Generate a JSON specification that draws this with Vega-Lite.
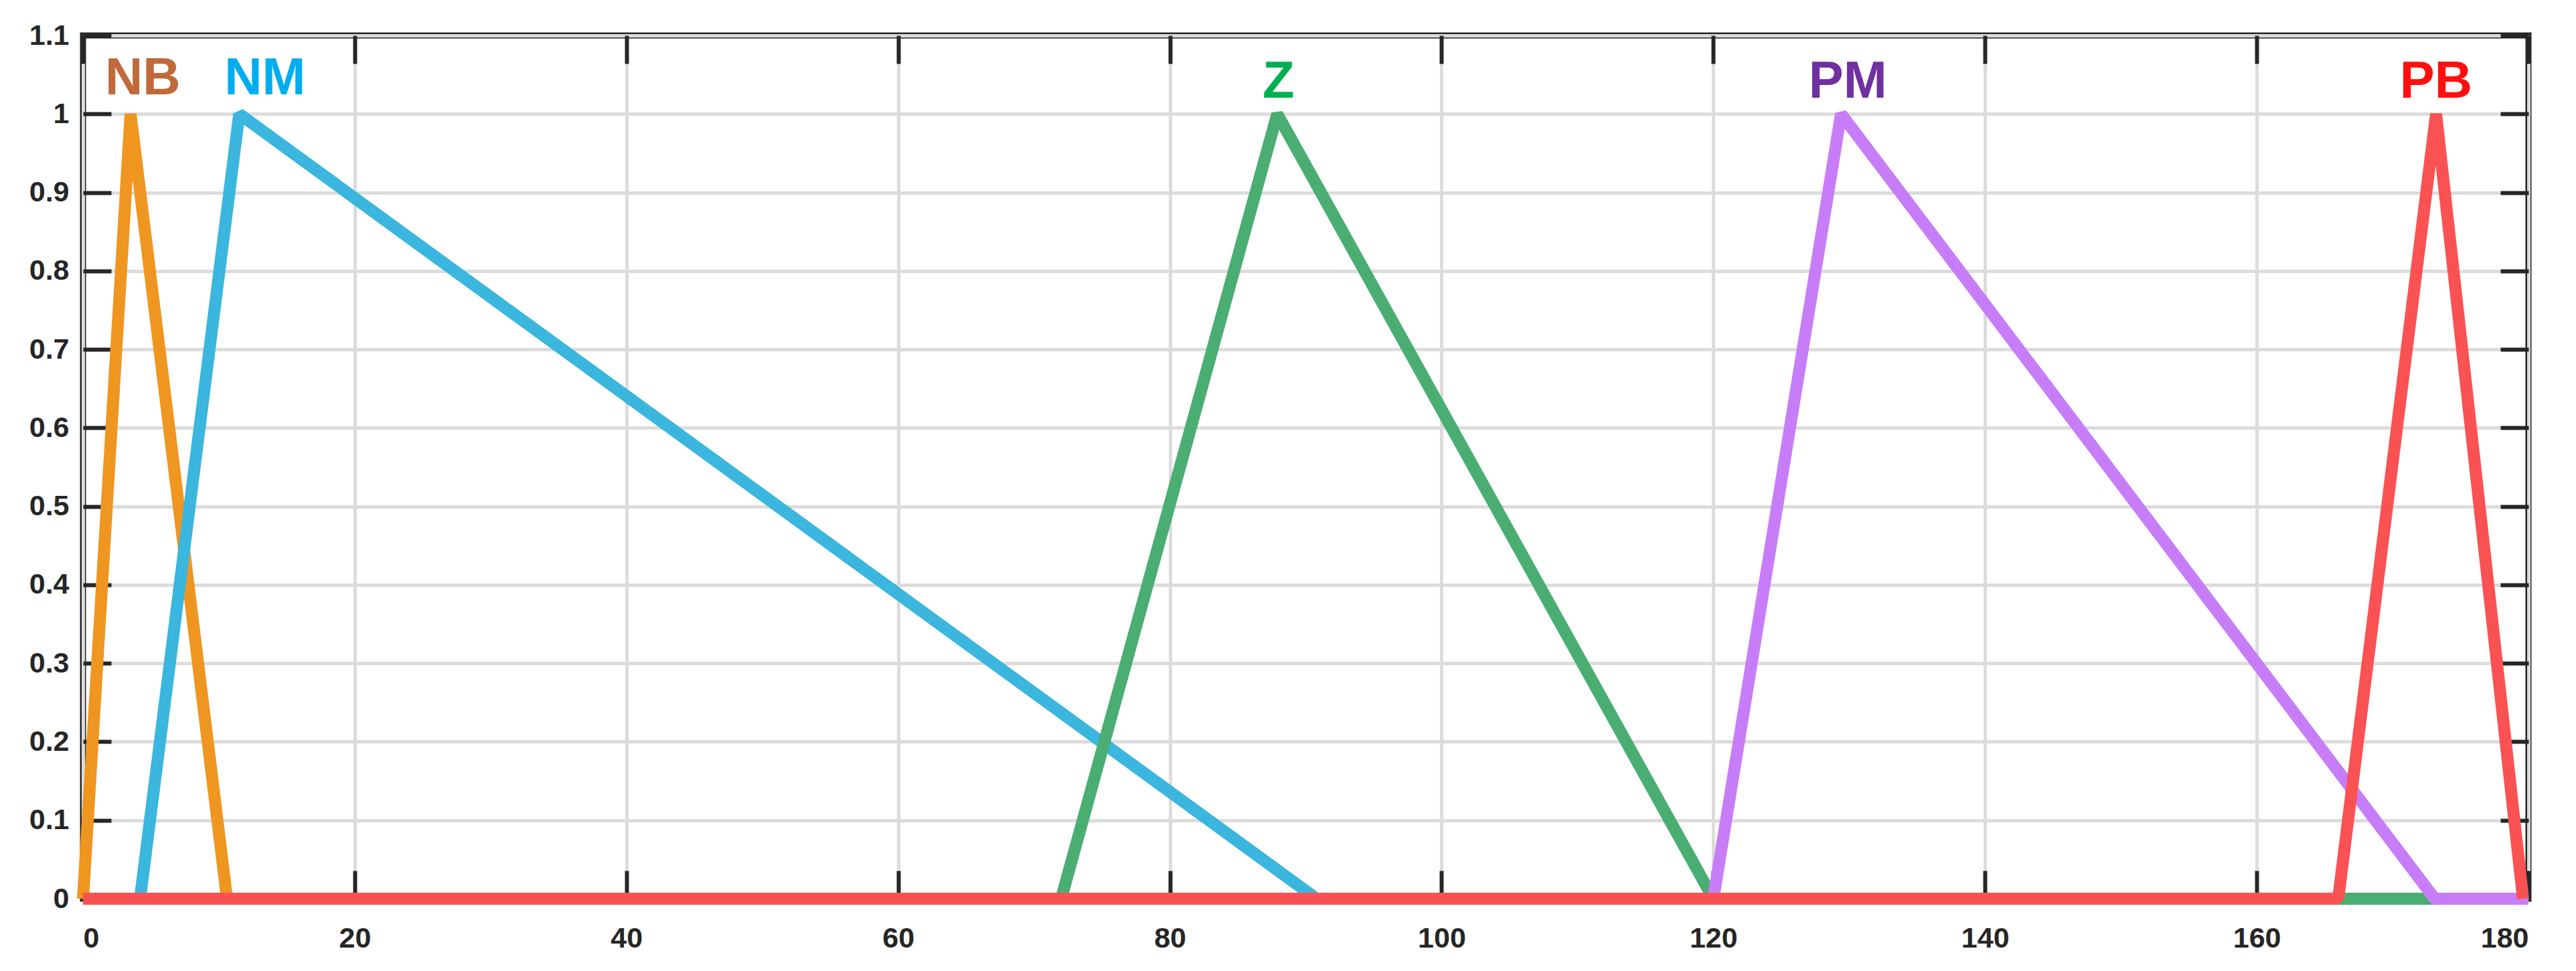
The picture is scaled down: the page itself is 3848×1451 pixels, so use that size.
{
  "$schema": "https://vega.github.io/schema/vega-lite/v6.json",
  "autosize": {"type": "none"},
  "padding": {"left": 124, "top": 53, "right": 71, "bottom": 108},
  "width": 3653,
  "height": 1290,
  "background": "white",
  "config": {
    "view": {"stroke": "#262626", "strokeWidth": 9},
    "axis": {
      "labelFont": "Liberation Sans",
      "labelFontWeight": "bold",
      "labelFontSize": 43,
      "labelColor": "#262626",
      "tickColor": "#262626",
      "tickWidth": 6,
      "tickSize": -42,
      "domain": false,
      "title": null,
      "gridColor": "#dcdcdc",
      "gridWidth": 5
    }
  },
  "datasets": {
    "mf": [
      {"series": "NB", "x": 0, "y": 0},
      {"series": "NB", "x": 3.5, "y": 1},
      {"series": "NB", "x": 10.6, "y": 0},
      {"series": "NM", "x": 4.2, "y": 0},
      {"series": "NM", "x": 11.5, "y": 1},
      {"series": "NM", "x": 90.8, "y": 0},
      {"series": "Z", "x": 72.0, "y": 0},
      {"series": "Z", "x": 87.9, "y": 1},
      {"series": "Z", "x": 120, "y": 0},
      {"series": "Z", "x": 173.1, "y": 0},
      {"series": "PM", "x": 120, "y": 0},
      {"series": "PM", "x": 129.4, "y": 1},
      {"series": "PM", "x": 173.1, "y": 0},
      {"series": "PM", "x": 180, "y": 0},
      {"series": "PB", "x": 0, "y": 0},
      {"series": "PB", "x": 166.0, "y": 0},
      {"series": "PB", "x": 173.2, "y": 1},
      {"series": "PB", "x": 179.6, "y": 0}
    ],
    "labels": [
      {"name": "NB", "x": 4.4, "y": 1.045},
      {"name": "NM", "x": 13.4, "y": 1.045},
      {"name": "Z", "x": 88.0, "y": 1.04},
      {"name": "PM", "x": 129.9, "y": 1.04},
      {"name": "PB", "x": 173.2, "y": 1.04}
    ]
  },
  "layer": [
    {
      "data": {"name": "mf"},
      "encoding": {
        "x": {
          "field": "x", "type": "quantitative",
          "scale": {"domain": [0, 180], "nice": false, "zero": false},
          "axis": {"orient": "bottom", "values": [0, 20, 40, 60, 80, 100, 120, 140, 160, 180], "grid": true, "labelPadding": 80}
        },
        "y": {
          "field": "y", "type": "quantitative",
          "scale": {"domain": [0, 1.1], "nice": false, "zero": false},
          "axis": {"orient": "left", "values": [0, 0.1, 0.2, 0.3, 0.4, 0.5, 0.6, 0.7, 0.8, 0.9, 1, 1.1], "format": "~g", "grid": true, "labelPadding": 63}
        },
        "color": {
          "field": "series", "type": "nominal",
          "scale": {"domain": ["NB", "NM", "Z", "PM", "PB"], "range": ["#EF9620", "#3BB6DE", "#4AAE72", "#C87DF8", "#FA5252"]},
          "legend": null
        }
      },
      "layer": [
        {"transform": [{"filter": "datum.series === 'NB'"}], "mark": {"type": "line", "strokeWidth": 18, "strokeJoin": "bevel", "strokeCap": "butt"}},
        {"transform": [{"filter": "datum.series === 'NM'"}], "mark": {"type": "line", "strokeWidth": 18, "strokeJoin": "bevel", "strokeCap": "butt"}},
        {"transform": [{"filter": "datum.series === 'Z'"}], "mark": {"type": "line", "strokeWidth": 18, "strokeJoin": "bevel", "strokeCap": "butt"}},
        {"transform": [{"filter": "datum.series === 'PM'"}], "mark": {"type": "line", "strokeWidth": 18, "strokeJoin": "bevel", "strokeCap": "butt"}},
        {"transform": [{"filter": "datum.series === 'PB'"}], "mark": {"type": "line", "strokeWidth": 18, "strokeJoin": "bevel", "strokeCap": "butt"}}
      ]
    },
    {
      "data": {"name": "labels"},
      "mark": {"type": "text", "font": "Liberation Sans", "fontWeight": "bold", "fontSize": 78, "align": "center", "baseline": "middle"},
      "encoding": {
        "x": {
          "field": "x", "type": "quantitative",
          "scale": {"domain": [0, 180], "nice": false, "zero": false},
          "axis": {"orient": "top", "values": [0, 20, 40, 60, 80, 100, 120, 140, 160, 180], "grid": false, "labels": false}
        },
        "y": {
          "field": "y", "type": "quantitative",
          "scale": {"domain": [0, 1.1], "nice": false, "zero": false},
          "axis": {"orient": "right", "values": [0, 0.1, 0.2, 0.3, 0.4, 0.5, 0.6, 0.7, 0.8, 0.9, 1, 1.1], "grid": false, "labels": false}
        },
        "text": {"field": "name"},
        "color": {
          "field": "name", "type": "nominal",
          "scale": {"domain": ["NB", "NM", "Z", "PM", "PB"], "range": ["#C0693A", "#00AEEF", "#00B050", "#7030A0", "#FF1010"]},
          "legend": null
        }
      }
    }
  ],
  "resolve": {"scale": {"color": "independent"}, "axis": {"x": "independent", "y": "independent"}}
}
